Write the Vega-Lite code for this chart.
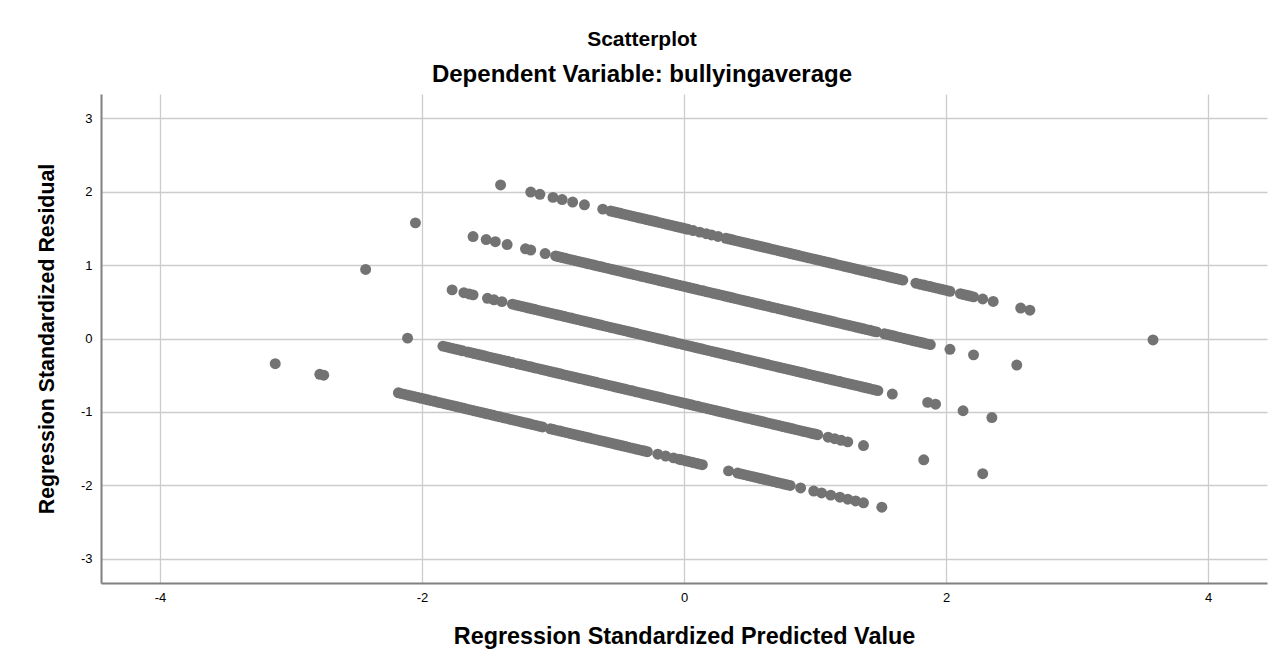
{
"$schema":"https://vega.github.io/schema/vega-lite/v6.json",
"width":1166,"height":489,
"autosize":{"type":"none"},
"padding":{"left":101,"top":94,"right":14,"bottom":81},
"background":"white",
"title":{"text":"Scatterplot","subtitle":"Dependent Variable: bullyingaverage","font":"Liberation Sans","subtitleFont":"Liberation Sans","fontSize":21,"subtitleFontSize":24,"fontWeight":"bold","subtitleFontWeight":"bold","color":"#000","subtitleColor":"#000","anchor":"middle","dx":-42,"offset":7,"subtitlePadding":13},
"config":{"view":{"stroke":null},"font":"Liberation Sans",
"axis":{"grid":true,"gridColor":"#cccccc","gridWidth":1.3,"domainColor":"#808080","domainWidth":2,"ticks":false,"labelFont":"Liberation Sans","labelFontSize":13,"labelColor":"#000","labelExpr":"'' + datum.value","titleFont":"Liberation Sans","titleFontWeight":"bold","titleColor":"#000"}},
"data":{"values":[
{"x":-1.40,"y":2.091},{"x":-1.17,"y":1.994},{"x":-1.10,"y":1.964},{"x":-1.00,"y":1.922},{"x":-0.93,"y":1.892},{"x":-0.85,"y":1.859},{"x":-0.76,"y":1.821},{"x":-0.62,"y":1.762},
{"x":-0.56,"y":1.736},{"x":-0.51,"y":1.715},{"x":-0.46,"y":1.694},{"x":-0.41,"y":1.673},{"x":-0.36,"y":1.652},{"x":-0.31,"y":1.631},{"x":-0.26,"y":1.610},{"x":-0.21,"y":1.589},{"x":-0.16,"y":1.568},{"x":-0.11,"y":1.546},{"x":-0.06,"y":1.525},{"x":-0.01,"y":1.504},{"x":0.03,"y":1.487},
{"x":-0.535,"y":1.726},{"x":-0.485,"y":1.705},{"x":-0.435,"y":1.684},{"x":-0.385,"y":1.662},{"x":-0.335,"y":1.641},{"x":-0.285,"y":1.620},{"x":-0.235,"y":1.599},{"x":-0.185,"y":1.578},{"x":-0.135,"y":1.557},{"x":-0.085,"y":1.536},{"x":-0.035,"y":1.515},{"x":0.01,"y":1.496},
{"x":0.07,"y":1.470},{"x":0.12,"y":1.449},{"x":0.17,"y":1.428},{"x":0.21,"y":1.411},{"x":0.26,"y":1.390},
{"x":0.32,"y":1.365},{"x":0.37,"y":1.344},{"x":0.42,"y":1.323},{"x":0.47,"y":1.302},{"x":0.52,"y":1.281},{"x":0.57,"y":1.259},{"x":0.62,"y":1.238},{"x":0.67,"y":1.217},{"x":0.72,"y":1.196},{"x":0.77,"y":1.175},{"x":0.82,"y":1.154},{"x":0.87,"y":1.133},{"x":0.92,"y":1.112},{"x":0.97,"y":1.091},{"x":1.02,"y":1.070},{"x":1.07,"y":1.048},{"x":1.12,"y":1.027},{"x":1.17,"y":1.006},{"x":1.22,"y":0.985},{"x":1.27,"y":0.964},{"x":1.32,"y":0.943},{"x":1.37,"y":0.922},{"x":1.42,"y":0.901},{"x":1.47,"y":0.880},{"x":1.52,"y":0.859},{"x":1.57,"y":0.837},{"x":1.62,"y":0.816},{"x":1.67,"y":0.795},
{"x":0.345,"y":1.354},{"x":0.395,"y":1.333},{"x":0.445,"y":1.312},{"x":0.495,"y":1.291},{"x":0.545,"y":1.270},{"x":0.595,"y":1.249},{"x":0.645,"y":1.228},{"x":0.695,"y":1.207},{"x":0.745,"y":1.186},{"x":0.795,"y":1.165},{"x":0.845,"y":1.143},{"x":0.895,"y":1.122},{"x":0.945,"y":1.101},{"x":0.995,"y":1.080},{"x":1.045,"y":1.059},{"x":1.095,"y":1.038},{"x":1.145,"y":1.017},{"x":1.195,"y":0.996},{"x":1.245,"y":0.975},{"x":1.295,"y":0.954},{"x":1.345,"y":0.932},{"x":1.395,"y":0.911},{"x":1.445,"y":0.890},{"x":1.495,"y":0.869},{"x":1.545,"y":0.848},{"x":1.595,"y":0.827},{"x":1.645,"y":0.806},
{"x":1.77,"y":0.753},{"x":1.80,"y":0.740},{"x":1.83,"y":0.728},{"x":1.855,"y":0.717},{"x":1.88,"y":0.707},{"x":1.905,"y":0.696},{"x":1.93,"y":0.686},{"x":1.955,"y":0.675},{"x":1.98,"y":0.664},{"x":2.005,"y":0.654},{"x":2.03,"y":0.643},{"x":2.11,"y":0.610},{"x":2.135,"y":0.599},{"x":2.16,"y":0.588},{"x":2.185,"y":0.578},{"x":2.21,"y":0.567},{"x":2.28,"y":0.538},{"x":2.36,"y":0.504},{"x":2.57,"y":0.415},{"x":2.64,"y":0.386},{"x":3.58,"y":-0.02},
{"x":-2.05,"y":1.575},{"x":-1.61,"y":1.389},{"x":-1.51,"y":1.347},{"x":-1.44,"y":1.318},{"x":-1.35,"y":1.280},{"x":-1.21,"y":1.221},{"x":-1.17,"y":1.204},{"x":-1.06,"y":1.157},
{"x":-0.98,"y":1.124},{"x":-0.93,"y":1.102},{"x":-0.88,"y":1.081},{"x":-0.83,"y":1.060},{"x":-0.78,"y":1.039},{"x":-0.73,"y":1.018},{"x":-0.68,"y":0.997},{"x":-0.63,"y":0.976},{"x":-0.58,"y":0.955},{"x":-0.53,"y":0.934},{"x":-0.48,"y":0.913},{"x":-0.43,"y":0.891},{"x":-0.38,"y":0.870},{"x":-0.33,"y":0.849},{"x":-0.28,"y":0.828},{"x":-0.23,"y":0.807},{"x":-0.18,"y":0.786},{"x":-0.13,"y":0.765},{"x":-0.08,"y":0.744},{"x":-0.03,"y":0.723},{"x":0.02,"y":0.702},{"x":0.07,"y":0.680},{"x":0.12,"y":0.659},{"x":0.17,"y":0.638},{"x":0.22,"y":0.617},{"x":0.27,"y":0.596},{"x":0.32,"y":0.575},{"x":0.37,"y":0.554},{"x":0.42,"y":0.533},{"x":0.47,"y":0.512},{"x":0.52,"y":0.491},{"x":0.57,"y":0.469},{"x":0.62,"y":0.448},{"x":0.67,"y":0.427},{"x":0.72,"y":0.406},{"x":0.77,"y":0.385},{"x":0.82,"y":0.364},{"x":0.87,"y":0.343},{"x":0.92,"y":0.322},{"x":0.97,"y":0.301},{"x":1.02,"y":0.280},{"x":1.07,"y":0.258},{"x":1.12,"y":0.237},{"x":1.17,"y":0.216},{"x":1.22,"y":0.195},{"x":1.27,"y":0.174},{"x":1.32,"y":0.153},{"x":1.37,"y":0.132},{"x":1.42,"y":0.111},{"x":1.47,"y":0.090},{"x":1.53,"y":0.064},{"x":1.58,"y":0.043},{"x":1.63,"y":0.022},{"x":1.68,"y":0.001},{"x":1.73,"y":-0.020},{"x":1.78,"y":-0.041},{"x":1.83,"y":-0.062},{"x":1.88,"y":-0.083},
{"x":-0.955,"y":1.113},{"x":-0.905,"y":1.092},{"x":-0.855,"y":1.071},{"x":-0.805,"y":1.050},{"x":-0.755,"y":1.029},{"x":-0.705,"y":1.008},{"x":-0.655,"y":0.986},{"x":-0.605,"y":0.965},{"x":-0.555,"y":0.944},{"x":-0.505,"y":0.923},{"x":-0.455,"y":0.902},{"x":-0.405,"y":0.881},{"x":-0.355,"y":0.860},{"x":-0.305,"y":0.839},{"x":-0.255,"y":0.818},{"x":-0.205,"y":0.797},{"x":-0.155,"y":0.775},{"x":-0.105,"y":0.754},{"x":-0.055,"y":0.733},{"x":-0.005,"y":0.712},{"x":0.045,"y":0.691},{"x":0.095,"y":0.670},{"x":0.145,"y":0.649},{"x":0.195,"y":0.628},{"x":0.245,"y":0.607},{"x":0.295,"y":0.586},{"x":0.345,"y":0.564},{"x":0.395,"y":0.543},{"x":0.445,"y":0.522},{"x":0.495,"y":0.501},{"x":0.545,"y":0.480},{"x":0.595,"y":0.459},{"x":0.645,"y":0.438},{"x":0.695,"y":0.417},{"x":0.745,"y":0.396},{"x":0.795,"y":0.375},{"x":0.845,"y":0.353},{"x":0.895,"y":0.332},{"x":0.945,"y":0.311},{"x":0.995,"y":0.290},{"x":1.045,"y":0.269},{"x":1.095,"y":0.248},{"x":1.145,"y":0.227},{"x":1.195,"y":0.206},{"x":1.245,"y":0.185},{"x":1.295,"y":0.164},{"x":1.345,"y":0.142},{"x":1.395,"y":0.121},{"x":1.445,"y":0.100},{"x":1.555,"y":0.054},{"x":1.605,"y":0.033},{"x":1.655,"y":0.012},{"x":1.705,"y":-0.010},{"x":1.755,"y":-0.031},{"x":1.805,"y":-0.052},{"x":1.855,"y":-0.073},
{"x":2.03,"y":-0.147},{"x":2.21,"y":-0.223},{"x":2.54,"y":-0.362},
{"x":-2.43,"y":0.940},{"x":-1.77,"y":0.662},{"x":-1.68,"y":0.624},{"x":-1.64,"y":0.607},{"x":-1.61,"y":0.594},{"x":-1.50,"y":0.548},{"x":-1.45,"y":0.527},{"x":-1.39,"y":0.502},
{"x":-1.31,"y":0.468},{"x":-1.26,"y":0.447},{"x":-1.21,"y":0.426},{"x":-1.16,"y":0.405},{"x":-1.11,"y":0.383},{"x":-1.06,"y":0.362},{"x":-1.01,"y":0.341},{"x":-0.96,"y":0.320},{"x":-0.91,"y":0.299},{"x":-0.86,"y":0.278},{"x":-0.81,"y":0.257},{"x":-0.76,"y":0.236},{"x":-0.71,"y":0.215},{"x":-0.66,"y":0.194},{"x":-0.61,"y":0.172},{"x":-0.56,"y":0.151},{"x":-0.51,"y":0.130},{"x":-0.46,"y":0.109},{"x":-0.41,"y":0.088},{"x":-0.36,"y":0.067},{"x":-0.31,"y":0.046},{"x":-0.26,"y":0.025},{"x":-0.21,"y":0.004},{"x":-0.16,"y":-0.017},{"x":-0.11,"y":-0.039},{"x":-0.06,"y":-0.060},{"x":-0.01,"y":-0.081},{"x":0.04,"y":-0.102},{"x":0.09,"y":-0.123},{"x":0.14,"y":-0.144},{"x":0.19,"y":-0.165},{"x":0.24,"y":-0.186},{"x":0.29,"y":-0.207},{"x":0.34,"y":-0.228},{"x":0.39,"y":-0.250},{"x":0.44,"y":-0.271},{"x":0.49,"y":-0.292},{"x":0.54,"y":-0.313},{"x":0.59,"y":-0.334},{"x":0.64,"y":-0.355},{"x":0.69,"y":-0.376},{"x":0.74,"y":-0.397},{"x":0.79,"y":-0.418},{"x":0.84,"y":-0.439},{"x":0.89,"y":-0.461},{"x":0.94,"y":-0.482},{"x":0.99,"y":-0.503},{"x":1.04,"y":-0.524},{"x":1.09,"y":-0.545},{"x":1.14,"y":-0.566},{"x":1.19,"y":-0.587},{"x":1.24,"y":-0.608},{"x":1.29,"y":-0.629},{"x":1.34,"y":-0.650},{"x":1.39,"y":-0.672},{"x":1.44,"y":-0.693},{"x":1.48,"y":-0.710},
{"x":-1.285,"y":0.457},{"x":-1.235,"y":0.436},{"x":-1.185,"y":0.415},{"x":-1.135,"y":0.394},{"x":-1.085,"y":0.373},{"x":-1.035,"y":0.352},{"x":-0.985,"y":0.331},{"x":-0.935,"y":0.310},{"x":-0.885,"y":0.288},{"x":-0.835,"y":0.267},{"x":-0.785,"y":0.246},{"x":-0.735,"y":0.225},{"x":-0.685,"y":0.204},{"x":-0.635,"y":0.183},{"x":-0.585,"y":0.162},{"x":-0.535,"y":0.141},{"x":-0.485,"y":0.120},{"x":-0.435,"y":0.099},{"x":-0.385,"y":0.077},{"x":-0.335,"y":0.056},{"x":-0.285,"y":0.035},{"x":-0.235,"y":0.014},{"x":-0.185,"y":-0.007},{"x":-0.135,"y":-0.028},{"x":-0.085,"y":-0.049},{"x":-0.035,"y":-0.070},{"x":0.015,"y":-0.091},{"x":0.065,"y":-0.112},{"x":0.115,"y":-0.134},{"x":0.165,"y":-0.155},{"x":0.215,"y":-0.176},{"x":0.265,"y":-0.197},{"x":0.315,"y":-0.218},{"x":0.365,"y":-0.239},{"x":0.415,"y":-0.260},{"x":0.465,"y":-0.281},{"x":0.515,"y":-0.302},{"x":0.565,"y":-0.323},{"x":0.615,"y":-0.345},{"x":0.665,"y":-0.366},{"x":0.715,"y":-0.387},{"x":0.765,"y":-0.408},{"x":0.815,"y":-0.429},{"x":0.865,"y":-0.450},{"x":0.915,"y":-0.471},{"x":0.965,"y":-0.492},{"x":1.015,"y":-0.513},{"x":1.065,"y":-0.534},{"x":1.115,"y":-0.556},{"x":1.165,"y":-0.577},{"x":1.215,"y":-0.598},{"x":1.265,"y":-0.619},{"x":1.315,"y":-0.640},{"x":1.365,"y":-0.661},{"x":1.415,"y":-0.682},{"x":1.46,"y":-0.701},
{"x":1.59,"y":-0.756},{"x":1.86,"y":-0.870},{"x":1.92,"y":-0.895},{"x":2.13,"y":-0.984},{"x":2.35,"y":-1.077},
{"x":-2.11,"y":0.005},{"x":-1.84,"y":-0.104},{"x":-1.79,"y":-0.125},{"x":-1.74,"y":-0.146},{"x":-1.69,"y":-0.167},{"x":-1.65,"y":-0.184},{"x":-1.60,"y":-0.205},{"x":-1.55,"y":-0.226},{"x":-1.50,"y":-0.247},{"x":-1.45,"y":-0.268},{"x":-1.40,"y":-0.289},{"x":-1.35,"y":-0.310},{"x":-1.31,"y":-0.327},
{"x":-1.815,"y":-0.114},{"x":-1.765,"y":-0.135},{"x":-1.715,"y":-0.156},{"x":-1.625,"y":-0.194},{"x":-1.575,"y":-0.215},{"x":-1.525,"y":-0.236},{"x":-1.475,"y":-0.258},{"x":-1.425,"y":-0.279},{"x":-1.375,"y":-0.300},{"x":-1.33,"y":-0.319},
{"x":-1.27,"y":-0.344},{"x":-1.22,"y":-0.365},{"x":-1.17,"y":-0.386},{"x":-1.12,"y":-0.407},{"x":-1.07,"y":-0.428},{"x":-1.02,"y":-0.450},{"x":-0.97,"y":-0.471},{"x":-0.92,"y":-0.492},{"x":-0.87,"y":-0.513},{"x":-0.82,"y":-0.534},{"x":-0.77,"y":-0.555},{"x":-0.72,"y":-0.576},{"x":-0.67,"y":-0.597},{"x":-0.62,"y":-0.618},{"x":-0.57,"y":-0.639},{"x":-0.52,"y":-0.661},{"x":-0.47,"y":-0.682},{"x":-0.42,"y":-0.703},{"x":-0.37,"y":-0.724},{"x":-0.32,"y":-0.745},{"x":-0.27,"y":-0.766},{"x":-0.22,"y":-0.787},{"x":-0.17,"y":-0.808},{"x":-0.12,"y":-0.829},{"x":-0.07,"y":-0.850},{"x":-0.02,"y":-0.872},{"x":0.03,"y":-0.893},{"x":0.08,"y":-0.914},{"x":0.13,"y":-0.935},{"x":0.18,"y":-0.956},{"x":0.23,"y":-0.977},{"x":0.28,"y":-0.998},{"x":0.33,"y":-1.019},{"x":0.38,"y":-1.040},{"x":0.43,"y":-1.061},{"x":0.48,"y":-1.083},{"x":0.53,"y":-1.104},{"x":0.58,"y":-1.125},{"x":0.63,"y":-1.146},{"x":0.68,"y":-1.167},{"x":0.73,"y":-1.188},{"x":0.78,"y":-1.209},{"x":0.83,"y":-1.230},{"x":0.88,"y":-1.251},{"x":0.93,"y":-1.272},{"x":0.98,"y":-1.294},{"x":1.02,"y":-1.310},
{"x":-1.245,"y":-0.355},{"x":-1.195,"y":-0.376},{"x":-1.145,"y":-0.397},{"x":-1.095,"y":-0.418},{"x":-1.045,"y":-0.439},{"x":-0.995,"y":-0.460},{"x":-0.945,"y":-0.481},{"x":-0.895,"y":-0.502},{"x":-0.845,"y":-0.523},{"x":-0.795,"y":-0.545},{"x":-0.745,"y":-0.566},{"x":-0.695,"y":-0.587},{"x":-0.645,"y":-0.608},{"x":-0.595,"y":-0.629},{"x":-0.545,"y":-0.650},{"x":-0.495,"y":-0.671},{"x":-0.445,"y":-0.692},{"x":-0.395,"y":-0.713},{"x":-0.345,"y":-0.734},{"x":-0.295,"y":-0.756},{"x":-0.245,"y":-0.777},{"x":-0.195,"y":-0.798},{"x":-0.145,"y":-0.819},{"x":-0.095,"y":-0.840},{"x":-0.045,"y":-0.861},{"x":0.005,"y":-0.882},{"x":0.055,"y":-0.903},{"x":0.105,"y":-0.924},{"x":0.155,"y":-0.945},{"x":0.205,"y":-0.967},{"x":0.255,"y":-0.988},{"x":0.305,"y":-1.009},{"x":0.355,"y":-1.030},{"x":0.405,"y":-1.051},{"x":0.455,"y":-1.072},{"x":0.505,"y":-1.093},{"x":0.555,"y":-1.114},{"x":0.605,"y":-1.135},{"x":0.655,"y":-1.156},{"x":0.705,"y":-1.178},{"x":0.755,"y":-1.199},{"x":0.805,"y":-1.220},{"x":0.855,"y":-1.241},{"x":0.905,"y":-1.262},{"x":0.955,"y":-1.283},{"x":1.00,"y":-1.302},
{"x":1.10,"y":-1.344},{"x":1.15,"y":-1.365},{"x":1.20,"y":-1.386},{"x":1.25,"y":-1.408},{"x":1.37,"y":-1.458},{"x":1.83,"y":-1.652},{"x":2.28,"y":-1.842},
{"x":-3.12,"y":-0.343},{"x":-2.78,"y":-0.487},{"x":-2.75,"y":-0.500},
{"x":-2.18,"y":-0.740},{"x":-2.13,"y":-0.761},{"x":-2.08,"y":-0.782},{"x":-2.03,"y":-0.803},{"x":-1.98,"y":-0.824},{"x":-1.93,"y":-0.846},{"x":-1.88,"y":-0.867},{"x":-1.83,"y":-0.888},{"x":-1.78,"y":-0.909},{"x":-1.73,"y":-0.930},{"x":-1.68,"y":-0.951},{"x":-1.63,"y":-0.972},{"x":-1.58,"y":-0.993},{"x":-1.53,"y":-1.014},{"x":-1.48,"y":-1.035},{"x":-1.43,"y":-1.057},{"x":-1.38,"y":-1.078},{"x":-1.33,"y":-1.099},{"x":-1.28,"y":-1.120},{"x":-1.23,"y":-1.141},{"x":-1.18,"y":-1.162},{"x":-1.13,"y":-1.183},{"x":-1.08,"y":-1.204},
{"x":-2.155,"y":-0.751},{"x":-2.105,"y":-0.772},{"x":-2.055,"y":-0.793},{"x":-2.005,"y":-0.814},{"x":-1.955,"y":-0.835},{"x":-1.905,"y":-0.856},{"x":-1.855,"y":-0.877},{"x":-1.805,"y":-0.898},{"x":-1.755,"y":-0.919},{"x":-1.705,"y":-0.940},{"x":-1.655,"y":-0.962},{"x":-1.605,"y":-0.983},{"x":-1.555,"y":-1.004},{"x":-1.505,"y":-1.025},{"x":-1.455,"y":-1.046},{"x":-1.405,"y":-1.067},{"x":-1.355,"y":-1.088},{"x":-1.305,"y":-1.109},{"x":-1.255,"y":-1.130},{"x":-1.205,"y":-1.151},{"x":-1.155,"y":-1.173},{"x":-1.105,"y":-1.194},
{"x":-1.02,"y":-1.230},{"x":-0.97,"y":-1.251},{"x":-0.92,"y":-1.272},{"x":-0.87,"y":-1.293},{"x":-0.82,"y":-1.314},{"x":-0.77,"y":-1.335},{"x":-0.72,"y":-1.356},{"x":-0.67,"y":-1.377},{"x":-0.62,"y":-1.398},{"x":-0.57,"y":-1.419},{"x":-0.52,"y":-1.441},{"x":-0.47,"y":-1.462},{"x":-0.42,"y":-1.483},{"x":-0.37,"y":-1.504},{"x":-0.32,"y":-1.525},{"x":-0.28,"y":-1.542},
{"x":-0.995,"y":-1.240},{"x":-0.945,"y":-1.261},{"x":-0.895,"y":-1.282},{"x":-0.845,"y":-1.303},{"x":-0.795,"y":-1.325},{"x":-0.745,"y":-1.346},{"x":-0.695,"y":-1.367},{"x":-0.645,"y":-1.388},{"x":-0.595,"y":-1.409},{"x":-0.545,"y":-1.430},{"x":-0.495,"y":-1.451},{"x":-0.445,"y":-1.472},{"x":-0.395,"y":-1.493},{"x":-0.345,"y":-1.514},{"x":-0.30,"y":-1.533},
{"x":-0.20,"y":-1.576},{"x":-0.14,"y":-1.601},{"x":-0.08,"y":-1.626},
{"x":-0.04,"y":-1.643},{"x":-0.02,"y":-1.652},{"x":0.01,"y":-1.664},{"x":0.035,"y":-1.675},{"x":0.06,"y":-1.685},{"x":0.08,"y":-1.694},{"x":0.10,"y":-1.702},{"x":0.12,"y":-1.711},{"x":0.14,"y":-1.719},
{"x":0.34,"y":-1.803},{"x":0.41,"y":-1.833},{"x":0.46,"y":-1.854},{"x":0.51,"y":-1.875},{"x":0.56,"y":-1.896},{"x":0.61,"y":-1.917},{"x":0.66,"y":-1.939},{"x":0.71,"y":-1.960},{"x":0.76,"y":-1.981},{"x":0.81,"y":-2.002},
{"x":0.435,"y":-1.844},{"x":0.485,"y":-1.865},{"x":0.535,"y":-1.886},{"x":0.585,"y":-1.907},{"x":0.635,"y":-1.928},{"x":0.685,"y":-1.949},{"x":0.735,"y":-1.970},{"x":0.785,"y":-1.991},
{"x":0.89,"y":-2.036},{"x":0.99,"y":-2.078},{"x":1.05,"y":-2.103},{"x":1.12,"y":-2.133},{"x":1.19,"y":-2.162},{"x":1.25,"y":-2.188},{"x":1.31,"y":-2.213},{"x":1.37,"y":-2.238},{"x":1.51,"y":-2.297}
]},
"mark":{"type":"circle","size":120,"color":"#737373","opacity":1},
"encoding":{
"x":{"field":"x","type":"quantitative","scale":{"domain":[-4.45,4.45],"nice":false,"zero":false},"axis":{"values":[-4,-2,0,2,4],"title":"Regression Standardized Predicted Value","titleFontSize":23.4,"labelPadding":8,"titlePadding":21}},
"y":{"field":"y","type":"quantitative","scale":{"domain":[-3.33,3.33],"nice":false,"zero":false},"axis":{"values":[-3,-2,-1,0,1,2,3],"title":"Regression Standardized Residual","titleFontSize":21.3,"labelPadding":9,"titlePadding":23}}
}
}
